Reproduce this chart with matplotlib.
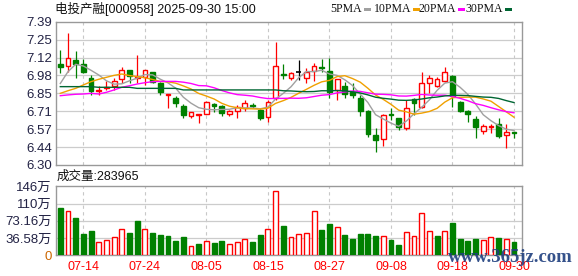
import numpy as np
import matplotlib
matplotlib.use("Agg")
import matplotlib.pyplot as plt
from matplotlib.patches import Rectangle

# ---------------- data ----------------
opens = [7.066, 7.053, 7.099, 7.066, 6.964, 6.864, 6.884, 6.903, 6.952, 7.023,
         6.962, 6.972, 7.005, 6.922, 6.830, 6.812, 6.751, 6.675, 6.680, 6.690,
         6.766, 6.751, 6.690, 6.713, 6.736, 6.757, 6.718, 6.668, 6.807, 6.990,
         6.960, 7.005, 6.964, 7.017, 7.043, 7.015, 6.871, 6.900, 6.858, 6.812,
         6.711, 6.528, 6.498, 6.686, 6.655, 6.584, 6.800, 6.744, 6.926, 6.903,
         6.939, 6.979, 6.777, 6.711, 6.648, 6.559, 6.592, 6.610, 6.528, 6.553]
highs = [7.175, 7.306, 7.167, 7.106, 6.985, 6.903, 6.941, 6.964, 7.048, 7.023,
         7.137, 7.023, 7.005, 6.934, 6.838, 6.825, 6.762, 6.706, 6.686, 6.787,
         6.774, 6.757, 6.720, 6.757, 6.795, 6.774, 6.731, 6.795, 7.238, 7.066,
         7.005, 7.099, 7.035, 7.078, 7.104, 7.112, 6.952, 6.934, 6.922, 6.833,
         6.719, 6.579, 6.686, 6.731, 6.655, 6.795, 6.807, 7.010, 6.985, 6.972,
         7.048, 6.985, 6.787, 6.719, 6.673, 6.610, 6.610, 6.655, 6.610, 6.553]
lows = [6.998, 7.005, 6.964, 6.998, 6.833, 6.833, 6.871, 6.871, 6.922, 6.922,
        6.922, 6.909, 6.922, 6.833, 6.736, 6.744, 6.660, 6.660, 6.617, 6.690,
        6.706, 6.675, 6.675, 6.660, 6.711, 6.731, 6.643, 6.630, 6.795, 6.954,
        6.950, 6.947, 6.922, 6.939, 7.010, 6.807, 6.795, 6.812, 6.812, 6.675,
        6.515, 6.401, 6.447, 6.643, 6.570, 6.566, 6.680, 6.736, 6.846, 6.896,
        6.934, 6.744, 6.701, 6.630, 6.503, 6.534, 6.541, 6.508, 6.432, 6.508]
closes = [7.048, 7.112, 7.068, 7.010, 6.863, 6.871, 6.890, 6.941, 7.023, 6.977,
          6.972, 7.023, 6.934, 6.858, 6.838, 6.769, 6.680, 6.706, 6.686, 6.777,
          6.751, 6.693, 6.713, 6.744, 6.770, 6.750, 6.660, 6.777, 7.053, 6.985,
          7.000, 7.005, 7.010, 7.053, 7.035, 6.858, 6.952, 6.842, 6.836, 6.711,
          6.534, 6.490, 6.680, 6.677, 6.592, 6.731, 6.770, 6.926, 6.960, 6.952,
          7.005, 6.825, 6.711, 6.690, 6.590, 6.595, 6.600, 6.523, 6.553, 6.541]
volumes_wan = [100, 94, 79, 45, 52, 28, 32, 38, 55, 47,
               73, 55, 47, 43, 41, 30, 39, 20, 24, 30,
               26, 30, 24, 28, 35, 28, 43, 56, 136, 62,
               39, 45, 47, 94, 54, 66, 59, 43, 35, 45,
               45, 41, 40, 32, 22, 49, 41, 89, 52, 41,
               52, 69, 35, 31, 35, 32, 39, 37, 35, 28]

ma5_head = [6.920, 7.010, 7.066, 7.053]
ma10_head = [6.845, 6.865, 6.883, 6.909, 6.934, 6.952, 6.967, 6.982, 6.992]
ma20_head = [6.827, 6.833, 6.838, 6.840, 6.845, 6.840, 6.853, 6.871, 6.891, 6.903,
             6.916, 6.926, 6.934, 6.936, 6.936, 6.936, 6.930, 6.920, 6.904]
ma30_head = [6.896, 6.896, 6.896, 6.896, 6.896, 6.891, 6.891, 6.891, 6.891, 6.891,
             6.883, 6.883, 6.883, 6.883, 6.883, 6.883, 6.871, 6.871, 6.871, 6.871,
             6.871, 6.871, 6.871, 6.871, 6.871, 6.871, 6.871, 6.871, 6.871]

date_labels = ["07-14", "07-24", "08-05", "08-15", "08-27", "09-08", "09-18", "09-30"]
date_index = [3, 11, 19, 27, 35, 43, 51, 59]
price_tick_labels = ["7.39", "7.25", "7.12", "6.98", "6.85", "6.71", "6.57", "6.44", "6.30"]
vol_tick_values = [0, 36.58, 73.16, 109.74, 146.32]
vol_tick_labels = ["0", "36.58万", "73.16万", "110万", "146万"]
title = "电投产融[000958] 2025-09-30 15:00"
vol_title = "成交量:283965"
legend_names = ["5PMA", "10PMA", "20PMA", "30PMA"]

# ---------------- derived ----------------
o = np.array(opens); h = np.array(highs); l = np.array(lows); c = np.array(closes)
v = np.array(volumes_wan, dtype=float)
n = len(c)
x = np.arange(n)

def ma(period, head):
    out = list(head)
    for i in range(len(head), n):
        out.append(c[i - period + 1:i + 1].mean())
    return np.array(out)

ma5 = ma(5, ma5_head)
ma10 = ma(10, ma10_head)
ma20 = ma(20, ma20_head)
ma30 = ma(30, ma30_head)

RED = "#ff0000"
GREEN = "#008000"
GRID = "#cccccc"
FRAME = "#999999"
TXT = "#222244"
ma_colors = ["#a0a0a0", "#f0a000", "#ff00ff", "#006633"]

W, H = 578, 276
fig = plt.figure(figsize=(W / 100, H / 100), dpi=100)
fig.patch.set_facecolor("white")

ax = fig.add_axes([56 / W, 1 - 165 / H, 466 / W, 143.3 / H])
axv = fig.add_axes([56 / W, 1 - 255.3 / H, 466 / W, 69 / H])

xlim = (-0.56, 60.04)
for a in (ax, axv):
    a.set_xlim(*xlim)
    for s in a.spines.values():
        s.set_color(FRAME)
        s.set_linewidth(1.0)
    a.tick_params(length=0)
    a.set_xticks([])
    for xi in date_index:
        a.axvline(xi, color="#c8c8c8", lw=0.8, ls=(0, (3, 3)), zorder=1)

# price panel
ax.set_ylim(6.30, 7.39)
pt = np.linspace(7.39, 6.30, len(price_tick_labels))
ax.set_yticks(pt)
ax.set_yticklabels(price_tick_labels, family="Liberation Sans", fontsize=9.5, color=TXT)
ax.tick_params(axis="y", pad=3)
for y in pt[1:-1]:
    ax.axhline(y, color=GRID, lw=0.9, zorder=1)

bw = 0.62
for i in range(n):
    if c[i] > o[i]:
        col, face = RED, "white"
    elif c[i] < o[i]:
        col, face = GREEN, GREEN
    else:
        col, face = "black", "black"
    ax.vlines(x[i], l[i], h[i], color=col, lw=0.9, zorder=2)
    lo, hi = min(o[i], c[i]), max(o[i], c[i])
    if hi - lo < 0.004:
        ax.hlines((lo + hi) / 2, x[i] - bw / 2, x[i] + bw / 2, color=col, lw=1.2, zorder=3)
    else:
        ax.add_patch(Rectangle((x[i] - bw / 2, lo), bw, hi - lo, facecolor=face,
                               edgecolor=col, lw=1.0, zorder=3))

for m, col in zip([ma5, ma10, ma20, ma30], ma_colors):
    ax.plot(x, m, color=col, lw=1.0, zorder=4)

# volume panel
axv.set_ylim(0, 146.32)
axv.set_yticks(vol_tick_values)
axv.set_yticklabels(vol_tick_labels, family=["Liberation Sans", "Noto Sans CJK SC"],
                    fontsize=9.5, color=TXT)
axv.get_yticklabels()[0].set_color("#cc6600")
axv.tick_params(axis="y", pad=3)
for y in vol_tick_values[1:-1]:
    axv.axhline(y, color=GRID, lw=0.9, zorder=1)

prev = np.concatenate([[o[0]], c[:-1]])
for i in range(n):
    up = c[i] >= prev[i]
    if up:
        axv.add_patch(Rectangle((x[i] - 0.32, 0), 0.64, v[i], facecolor="white",
                                edgecolor=RED, lw=1.0, zorder=3))
    else:
        axv.add_patch(Rectangle((x[i] - 0.32, 0), 0.64, v[i], facecolor=GREEN,
                                edgecolor=GREEN, lw=1.0, zorder=3))

# date labels
for lab, xi in zip(date_labels, date_index):
    xp = (56 + (xi - xlim[0]) / (xlim[1] - xlim[0]) * 466) / W
    fig.text(xp, 1 - 267 / H, lab, color=RED, fontsize=9, family="Liberation Sans",
             ha="center", va="center")

# titles
fig.text(55 / W, 1 - 9.5 / H, title, family=["Liberation Sans", "Noto Sans CJK SC"],
         fontsize=9, color="#111111", ha="left", va="center")
fig.text(57 / W, 1 - 176.5 / H, vol_title, family=["Liberation Sans", "Noto Sans CJK SC"],
         fontsize=9, color="#111111", ha="left", va="center")

# legend: label then a short colour dash
dash_x = [364, 413, 458, 505]
for name, dx, col in zip(legend_names, dash_x, ma_colors):
    fig.text((dx - 2) / W, 1 - 9.5 / H, name, family="Liberation Serif", fontsize=8.5,
             color="#111111", ha="right", va="center")
    fig.patches.append(Rectangle((dx / W, 1 - 11 / H), 7 / W, 3 / H,
                                 transform=fig.transFigure, facecolor=col,
                                 edgecolor="none"))

# watermark text
fig.text(573 / W, 1 - 258 / H, "www.365jz.com", family="Liberation Serif",
         fontsize=13.5, color="#1f3f7f", ha="right", va="center", weight="bold", alpha=0.9)

fig.savefig("out.png", dpi=100)
